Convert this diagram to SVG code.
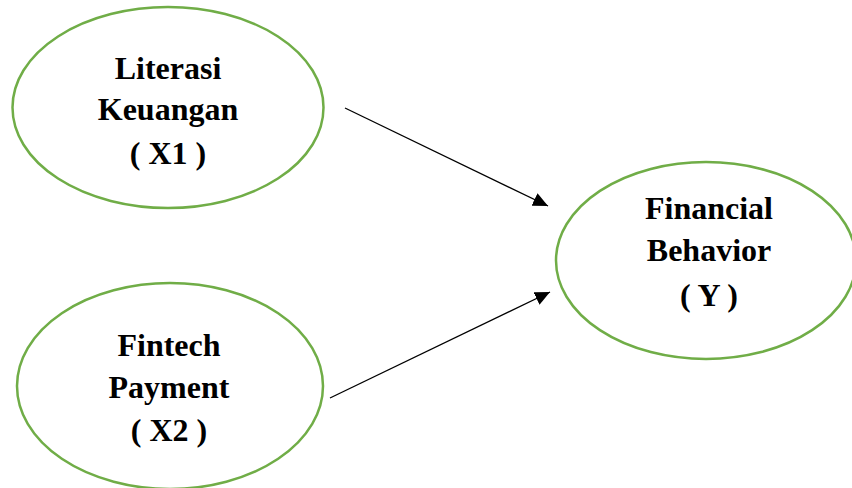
<svg xmlns="http://www.w3.org/2000/svg" width="852" height="488" viewBox="0 0 852 488">
<style>
.node ellipse{fill:#fff;stroke:#70AD47;stroke-width:2.5}
.node text{font-family:"Liberation Serif","Times New Roman",serif;font-weight:bold;font-size:32px;fill:#000;text-anchor:middle}
.conn line{stroke:#000;stroke-width:1.3}
</style>
<defs>
<marker id="arr" viewBox="0 0 15 14" refX="15" refY="7" markerWidth="15" markerHeight="14" markerUnits="userSpaceOnUse" orient="auto">
<path d="M0,0 L15,7 L0,14 Z" fill="#000"/>
</marker>
</defs>
<rect width="852" height="488" fill="#fff"/>
<g id="x1" class="node">
<ellipse cx="168" cy="107.5" rx="155.5" ry="100.5"/>
<text x="168" y="79">Literasi</text>
<text x="168" y="120">Keuangan</text>
<text x="168" y="164">( X1 )</text>
</g>
<g id="x2" class="node">
<ellipse cx="170" cy="386" rx="153" ry="103"/>
<text x="169" y="356">Fintech</text>
<text x="169" y="398">Payment</text>
<text x="169" y="441">( X2 )</text>
</g>
<g id="y" class="node">
<ellipse cx="706" cy="260.5" rx="150" ry="98.5"/>
<text x="709" y="219">Financial</text>
<text x="709" y="261">Behavior</text>
<text x="709" y="306">( Y )</text>
</g>
<g id="connectors" class="conn">
<line x1="345" y1="108" x2="548" y2="206" marker-end="url(#arr)"/>
<line x1="330" y1="398" x2="550" y2="292" marker-end="url(#arr)"/>
</g>
</svg>
